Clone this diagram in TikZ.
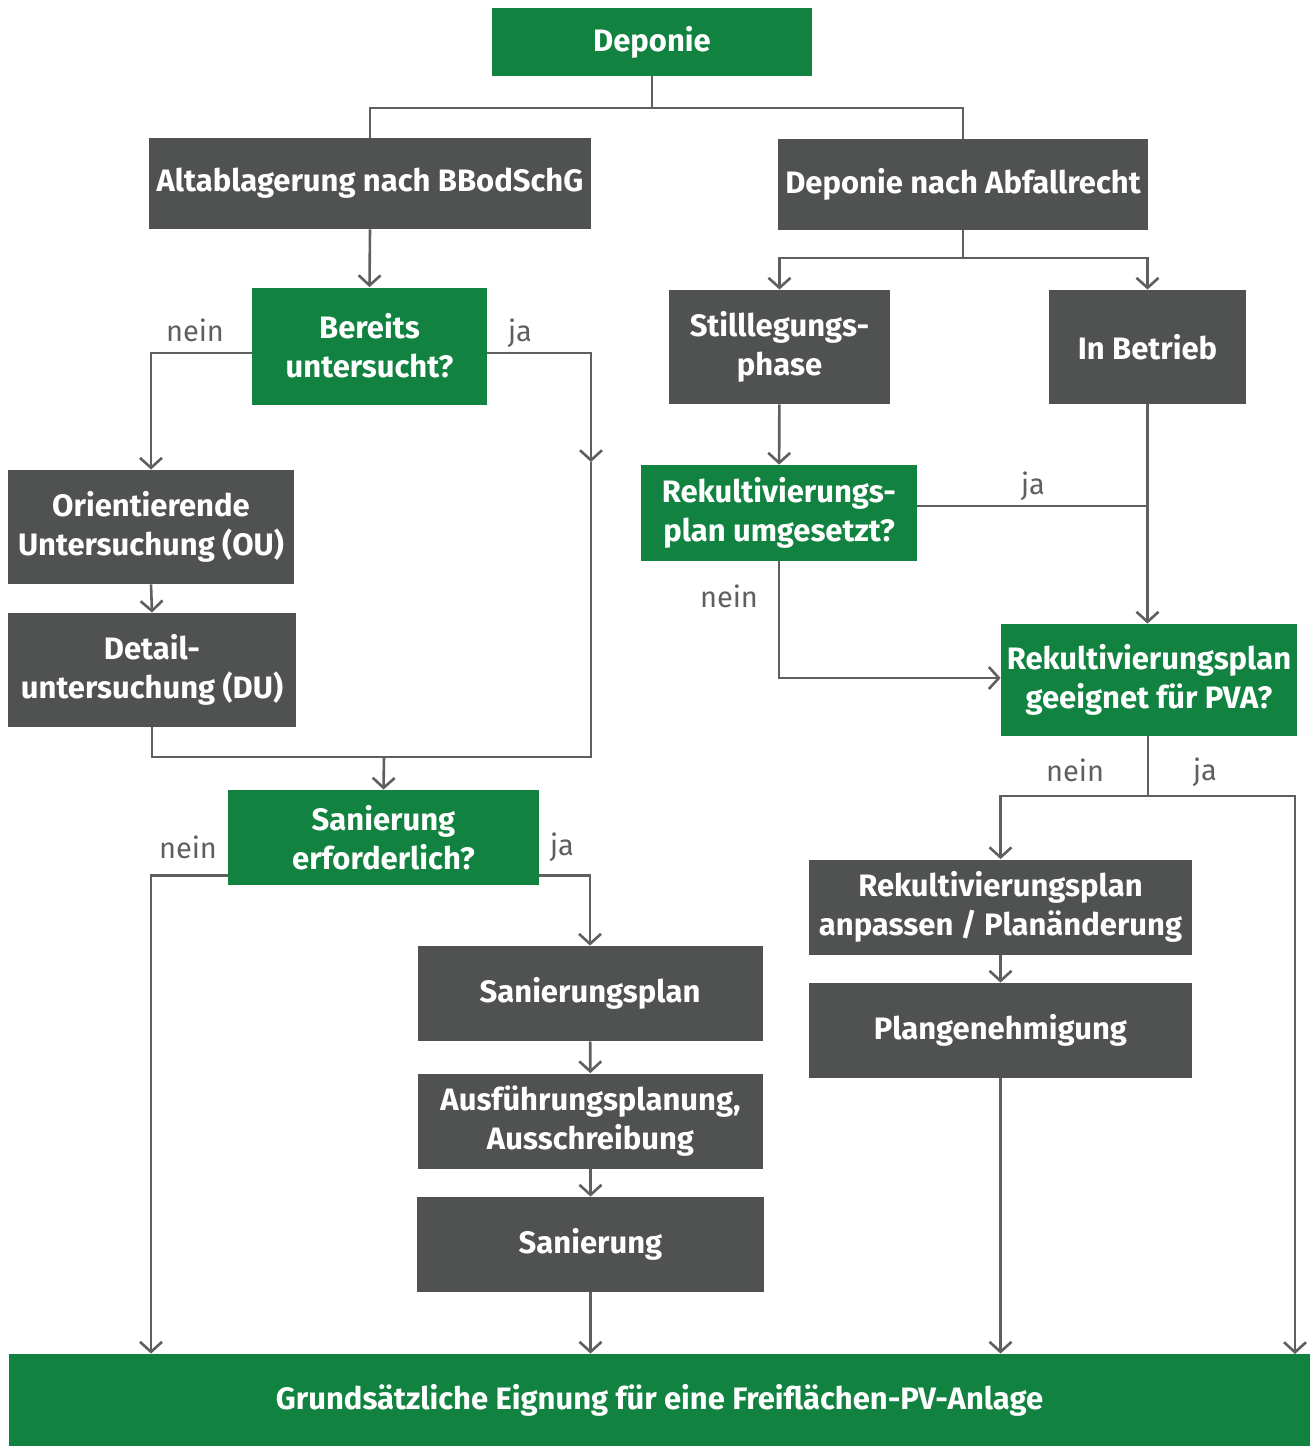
\documentclass[tikz,border=0pt]{standalone}
\usepackage{fontspec}
\setmainfont{Fira Sans}
\usetikzlibrary{arrows.meta}
\definecolor{gruen}{RGB}{18,130,65}
\definecolor{grau}{RGB}{80,81,81}
\definecolor{strich}{RGB}{95,95,95}
\begin{document}
\begin{tikzpicture}[x=0.5pt, y=-0.5pt,
                box/.style = {fill=grau, text=white, align=center, inner sep=0pt,
                              font=\bfseries\fontsize{15.5}{19.5}\selectfont},
                frage/.style = {box, fill=gruen},
                linie/.style = {draw=strich, line width=1.3pt},
                pfeil/.style = {linie, -{Straight Barb[length=5pt, width=11pt, line width=1.3pt]}},
                antwort/.style = {text=strich, font=\fontsize{14.5}{19}\selectfont}]
                \useasboundingbox (0,0) rectangle (1310,1446);
                \node[frage, minimum width=160pt, minimum height=34pt] (dep) at (652,42) {Deponie};
                \node[box, minimum width=221pt, minimum height=45.5pt] (alt) at (370,183.5) {Altablagerung nach BBodSchG};
                \node[box, minimum width=185pt, minimum height=45.5pt] (abf) at (963,184.5) {Deponie nach Abfallrecht};
                \node[frage, minimum width=117.5pt, minimum height=58.5pt] (ber) at (369.5,346) {Bereits\\untersucht?};
                \node[box, minimum width=110.5pt, minimum height=57pt] (still) at (779.5,347) {Stilllegungs-\\phase};
                \node[box, minimum width=98.5pt, minimum height=57pt] (betr) at (1147.5,347) {In Betrieb};
                \node[box, minimum width=143pt, minimum height=57pt] (ou) at (151,527) {Orientierende\\Untersuchung (OU)};
                \node[box, minimum width=144pt, minimum height=57pt] (du) at (152,670) {Detail-\\untersuchung (DU)};
                \node[frage, minimum width=138pt, minimum height=48pt] (rumg) at (779,513) {Rekultivierungs-\\plan umgesetzt?};
                \node[frage, minimum width=148pt, minimum height=56pt] (rgeeig) at (1149,680) {Rekultivierungsplan\\geeignet für PVA?};
                \node[frage, minimum width=155.5pt, minimum height=47.5pt] (sanerf) at (383.5,837.5) {Sanierung\\erforderlich?};
                \node[box, minimum width=172.5pt, minimum height=47.5pt] (splan) at (590,993.5) {Sanierungsplan};
                \node[box, minimum width=172.5pt, minimum height=47.5pt] (ausf) at (590.5,1121) {Ausführungsplanung,\\Ausschreibung};
                \node[box, minimum width=173.5pt, minimum height=47.5pt] (san) at (590.5,1244.5) {Sanierung};
                \node[box, minimum width=191.5pt, minimum height=47.5pt] (anp) at (1000.5,907) {Rekultivierungsplan\\anpassen / Planänderung};
                \node[box, minimum width=191.5pt, minimum height=47.5pt] (plang) at (1000.5,1030.5) {Plangenehmigung};
                \node[frage, minimum width=650.5pt, minimum height=46pt] (grund) at (659.5,1400) {Grundsätzliche Eignung für eine Freiflächen-PV-Anlage};
                \coordinate (j1) at (652,108);
                \coordinate (j2) at (384,757);
                \coordinate (j3) at (963,258);
                \coordinate (j4) at (1148,796);
                \coordinate (rj1) at (591,462);
                \coordinate (e1) at (1295,1354);
                \draw[linie] (dep) -- (j1);
                \draw[linie] (alt.north) |- (j1) -| (abf.north);
                \draw[pfeil] (alt.south) -- (ber.north);
                \draw[pfeil] ([yshift=-3.5pt]ber.west) -| (ou.north);
                \draw[pfeil] ([yshift=-3.5pt]ber.east) -| (rj1);
                \draw[linie] (rj1) |- (du.south |- j2) -- (du.south);
                \draw[pfeil] (j2) -- (sanerf.north);
                \draw[pfeil] (ou.south) -- (du.north);
                \draw[pfeil] ([yshift=5pt]sanerf.south west) -| (ou.south |- grund.north);
                \draw[pfeil] ([yshift=5pt]sanerf.south east) -| (splan.north);
                \draw[pfeil] (splan) -- (ausf);
                \draw[pfeil] (ausf) -- (san);
                \draw[pfeil] (san.south) -- (san.south |- grund.north);
                \draw[linie] (abf.south) -- (j3);
                \draw[pfeil] (j3) -| (still.north);
                \draw[pfeil] (j3) -| (betr.north);
                \draw[pfeil] (still) -- (rumg);
                \draw[pfeil] (betr.south) -- (betr.south |- rgeeig.north);
                \draw[linie] ([yshift=3.5pt]rumg.east) -- ([yshift=3.5pt]rumg.east -| betr.south);
                \draw[pfeil] (rumg.south) |- ([yshift=1pt]rgeeig.west);
                \draw[linie] (rgeeig.south -| j4) -- (j4);
                \draw[pfeil] (j4) -| (anp.north);
                \draw[pfeil] (j4) -| (e1);
                \draw[pfeil] (anp) -- (plang);
                \draw[pfeil] (plang.south) -- (plang.south |- grund.north);
                \node[antwort] (n1) at (195,330) {nein};
                \node[antwort] (y1) at (520,333) {ja};
                \node[antwort] (n2) at (188,847) {nein};
                \node[antwort] (y2) at (562,847) {ja};
                \node[antwort] (y3) at (1033,486) {ja};
                \node[antwort] (n3) at (729,596) {nein};
                \node[antwort] (n4) at (1075,770) {nein};
                \node[antwort] (y4) at (1205,772) {ja};
            \end{tikzpicture}
\end{document}
